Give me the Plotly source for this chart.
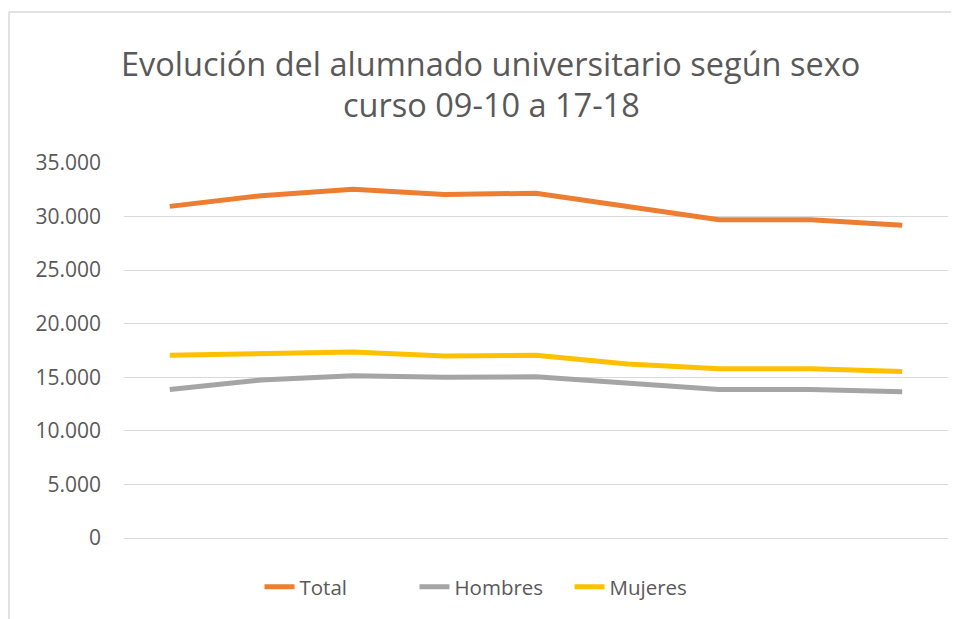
import plotly.graph_objects as go

cursos = ["09-10", "10-11", "11-12", "12-13", "13-14", "14-15", "15-16", "16-17", "17-18"]
total = [30950, 31950, 32550, 32050, 32180, 30950, 29700, 29700, 29200]
hombres = [13850, 14750, 15150, 15000, 15050, 14500, 13850, 13850, 13650]
mujeres = [17050, 17150, 17350, 16980, 17050, 16250, 15800, 15800, 15550]

series = [
    ("Total", total, "#ED7D31"),
    ("Hombres", hombres, "#A5A5A5"),
    ("Mujeres", mujeres, "#FFC000"),
]

fig = go.Figure()
for name, vals, color in series:
    fig.add_trace(go.Scatter(
        x=cursos, y=vals, name=name, mode="lines",
        line=dict(color=color, width=5),
    ))

FONT = "Open Sans"
OFF = 8  # page body margin
W, H = 959 - OFF, 619 - OFF
L = 124 - OFF
T = 163 - OFF
R = W - (948 - OFF)
B = H - (538 - OFF)
pw, ph = W - L - R, H - T - B


def px(x):
    return (x - OFF - L) / pw


def py(y):
    return (H - B - (y - OFF)) / ph


fig.update_layout(
    width=W, height=H,
    margin=dict(l=L, r=R, t=T, b=B),
    paper_bgcolor="white", plot_bgcolor="white",
    separators=",.",
    font=dict(family=FONT, color="#595959", size=20),
    showlegend=True,
    legend=dict(
        orientation="h", xanchor="center", yanchor="middle",
        x=px(492), y=py(587),
        font=dict(size=20.5, color="#595959"),
        bgcolor="rgba(0,0,0,0)",
        entrywidth=110, entrywidthmode="pixels",
    ),
    xaxis=dict(
        type="category", range=[-0.5, 8.5],
        showticklabels=False, showgrid=False, zeroline=False,
        showline=True, linecolor="#d9d9d9", linewidth=1, ticks="",
    ),
    yaxis=dict(
        range=[0, 35000], dtick=5000, tickformat=",d",
        showgrid=True, gridcolor="#d9d9d9", gridwidth=1,
        zeroline=False, showline=False, ticks="",
        ticklabelstandoff=22,
        tickfont=dict(size=21, color="#595959"),
    ),
    annotations=[
        dict(text="Evolución del alumnado universitario según sexo",
             xref="paper", yref="paper", x=px(490), y=py(63),
             xanchor="center", yanchor="middle", showarrow=False,
             font=dict(size=32.5, color="#595959", family=FONT)),
        dict(text="curso 09-10 a 17-18",
             xref="paper", yref="paper", x=px(491), y=py(105),
             xanchor="center", yanchor="middle", showarrow=False,
             font=dict(size=32.5, color="#595959", family=FONT)),
    ],
    shapes=[
        dict(type="line", xref="paper", yref="paper",
             x0=px(9), x1=px(959), y0=py(12), y1=py(12),
             line=dict(color="#d9d9d9", width=1.5)),
        dict(type="line", xref="paper", yref="paper",
             x0=px(9), x1=px(9), y0=py(12), y1=py(619),
             line=dict(color="#d9d9d9", width=1.5)),
    ],
)

fig.write_html("out.html")
